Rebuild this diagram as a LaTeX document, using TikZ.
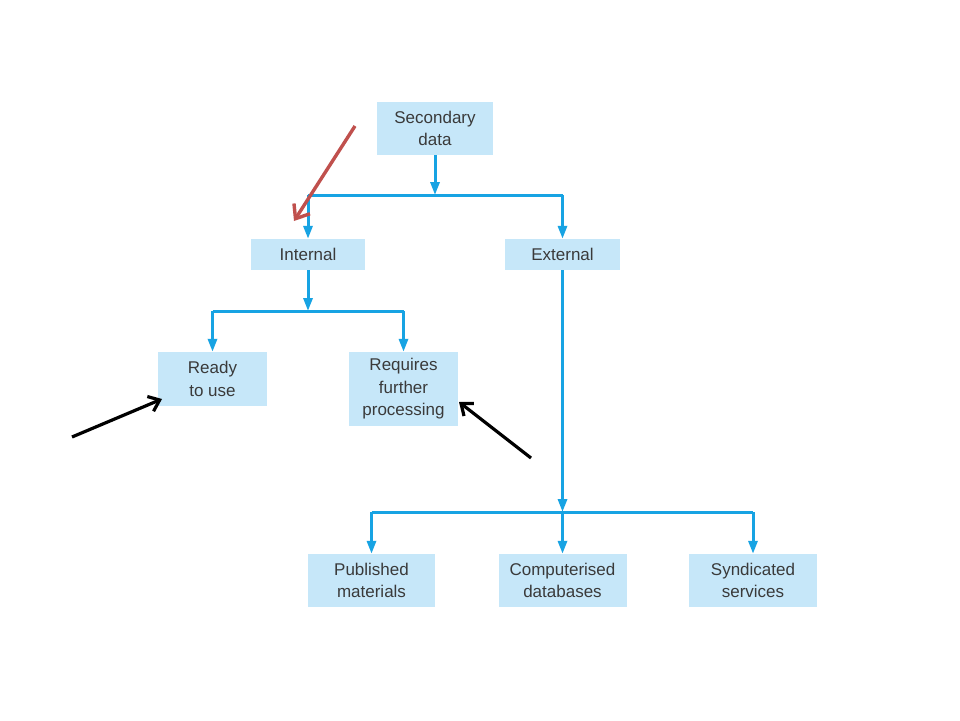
\documentclass[tikz,border=0pt]{standalone}
\usepackage{fontspec}
\setmainfont{Liberation Sans}
\usetikzlibrary{arrows.meta}
\definecolor{boxfill}{HTML}{C6E7F9}
\definecolor{linecol}{HTML}{17A3E3}
\definecolor{redarrow}{HTML}{C0504D}
\definecolor{txt}{HTML}{3A3A3A}
\tikzset{
  box/.style={fill=boxfill, draw=none, align=center, inner sep=0pt, text=txt,
    font=\fontsize{17}{22.5}\selectfont},
  conn/.style={draw=linecol, line width=3pt},
  connarrow/.style={conn, -{Triangle[length=13pt,width=9pt]}},
  note/.style={line width=3.2pt, -{Straight Barb[length=10pt,width=16pt,line width=3.2pt]}},
  rednote/.style={line width=3.4pt, -{Straight Barb[length=12pt,width=19pt,line width=3.4pt]}},
}
\begin{document}
\begin{tikzpicture}[x=1pt,y=-1pt]
\path[use as bounding box, fill=white] (0,0) rectangle (960,720);

\node[box, minimum width=116pt, minimum height=53pt] (sec) at (435,128.5) {Secondary\\data};
\node[box, minimum width=114pt, minimum height=31pt] (int) at (308,254.5) {Internal};
\node[box, minimum width=115pt, minimum height=31pt] (ext) at (562.5,254.5) {External};
\node[box, minimum width=109pt, minimum height=54pt] (ready) at (212.5,379) {Ready\\to use};
\node[box, minimum width=109pt, minimum height=74pt] (req) at (403.5,389) {Requires\\further\\processing};
\node[box, minimum width=127pt, minimum height=53pt] (pub) at (371.5,580.5) {Published\\materials};
\node[box, minimum width=128pt, minimum height=53pt] (comp) at (562.5,580.5) {Computerised\\databases};
\node[box, minimum width=128pt, minimum height=53pt] (syn) at (753,580.5) {Syndicated\\services};

\coordinate (j1) at (435,195);
\coordinate (j2) at (308,311);
\coordinate (j3) at (562.5,512);

\draw[connarrow] (sec.south) -- (j1);
\draw[conn] (int.north |- j1) -- (ext.north |- j1);
\draw[connarrow] (int.north |- j1) -- (int.north);
\draw[connarrow] (ext.north |- j1) -- (ext.north);

\draw[connarrow] (int.south) -- (j2);
\draw[conn] (ready.north |- j2) -- (req.north |- j2);
\draw[connarrow] (ready.north |- j2) -- (ready.north);
\draw[connarrow] (req.north |- j2) -- (req.north);

\draw[connarrow] (ext.south) -- (j3);
\draw[conn] (pub.north |- j3) -- (syn.north |- j3);
\draw[connarrow] (pub.north |- j3) -- (pub.north);
\draw[connarrow] (comp.north |- j3) -- (comp.north);
\draw[connarrow] (syn.north |- j3) -- (syn.north);

\coordinate (r1) at (355,126);
\coordinate (r2) at (294,221);
\draw[rednote, draw=redarrow] (r1) -- (r2);

\coordinate (b1) at (72,437);
\coordinate (b2) at (162,399);
\draw[note, draw=black] (b1) -- (b2);

\coordinate (c1) at (531,458);
\coordinate (c2) at (459,402);
\draw[note, draw=black] (c1) -- (c2);
\end{tikzpicture}
\end{document}
